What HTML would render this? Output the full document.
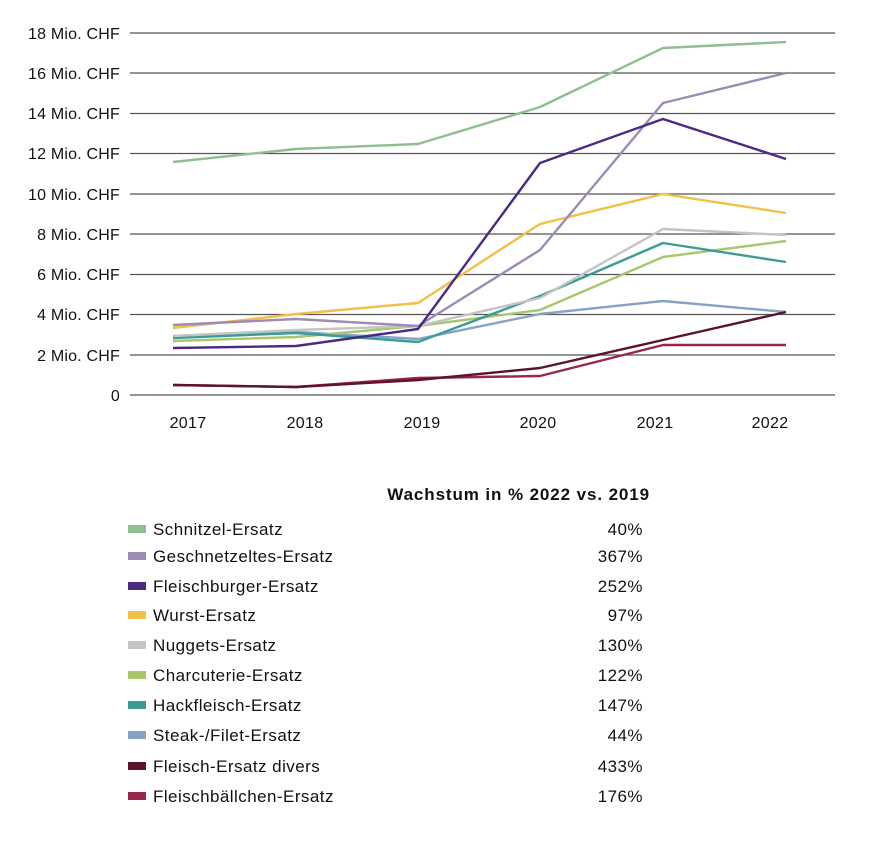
<!DOCTYPE html>
<html><head><meta charset="utf-8"><style>
body{margin:0;background:#fff;width:873px;height:841px;overflow:hidden}
text{font-family:"Liberation Sans",sans-serif;fill:#111}
</style></head><body>
<svg width="873" height="841" viewBox="0 0 873 841" xmlns="http://www.w3.org/2000/svg">
<g stroke="#555" stroke-width="1.2">
<line x1="130" y1="33" x2="835" y2="33"/><line x1="130" y1="73" x2="835" y2="73"/>
<line x1="130" y1="113.5" x2="835" y2="113.5"/><line x1="130" y1="153.5" x2="835" y2="153.5"/>
<line x1="130" y1="194" x2="835" y2="194"/><line x1="130" y1="234" x2="835" y2="234"/>
<line x1="130" y1="274.5" x2="835" y2="274.5"/><line x1="130" y1="314.5" x2="835" y2="314.5"/>
<line x1="130" y1="355" x2="835" y2="355"/><line x1="130" y1="395" x2="835" y2="395"/>
</g>
<g font-size="16" text-anchor="end" letter-spacing="0.2">
<text x="120" y="39">18 Mio. CHF</text><text x="120" y="79">16 Mio. CHF</text>
<text x="120" y="119">14 Mio. CHF</text><text x="120" y="159">12 Mio. CHF</text>
<text x="120" y="200">10 Mio. CHF</text><text x="120" y="240">8 Mio. CHF</text>
<text x="120" y="280">6 Mio. CHF</text><text x="120" y="320">4 Mio. CHF</text>
<text x="120" y="361">2 Mio. CHF</text><text x="120" y="401">0</text>
</g>
<g font-size="16" text-anchor="middle" letter-spacing="0.3">
<text x="188" y="428">2017</text><text x="305" y="428">2018</text><text x="422" y="428">2019</text>
<text x="538" y="428">2020</text><text x="655" y="428">2021</text><text x="770" y="428">2022</text>
</g>
<g fill="none" stroke-width="2.4" stroke-linejoin="round">
<polyline stroke="#85a3c6" points="173,336 296,332 418,339 540,314 663,301 786,312"/>
<polyline stroke="#a9c76a" points="173,341 296,337 418,326 540,310 663,257 786,241"/>
<polyline stroke="#3b9b95" points="173,338 296,333 418,342 540,296 663,243 786,262"/>
<polyline stroke="#c4c4c4" points="173,336 296,330 418,326 540,298 663,229 786,235"/>
<polyline stroke="#f2bf47" points="173,328 296,314 418,303 540,224 663,194 786,213"/>
<polyline stroke="#9e8bb5" points="173,325 296,319 418,326 540,250 663,103 786,73"/>
<polyline stroke="#4a2a85" points="173,348 296,346 418,329 540,163 663,119 786,159"/>
<polyline stroke="#8fbf8f" points="173,162 296,149 418,144 540,107 663,48 786,42"/>
<polyline stroke="#9b2450" points="173,385 296,387 418,378 540,376 663,345 786,345"/>
<polyline stroke="#5c1428" points="173,385 296,387 418,380 540,368 663,340 786,312"/>
</g>
<text x="650" y="500" font-size="17" font-weight="bold" text-anchor="end" letter-spacing="0.9">Wachstum in % 2022 vs. 2019</text>
<g font-size="17" letter-spacing="0.45">
<rect x="128" y="525" width="18" height="8" fill="#8fbf8f"/><text x="153" y="535">Schnitzel-Ersatz</text><text x="643" y="535" text-anchor="end">40%</text>
<rect x="128" y="552" width="18" height="8" fill="#9e8bb5"/><text x="153" y="562">Geschnetzeltes-Ersatz</text><text x="643" y="562" text-anchor="end">367%</text>
<rect x="128" y="582" width="18" height="8" fill="#4a2a85"/><text x="153" y="592">Fleischburger-Ersatz</text><text x="643" y="592" text-anchor="end">252%</text>
<rect x="128" y="611" width="18" height="8" fill="#f2bf47"/><text x="153" y="621">Wurst-Ersatz</text><text x="643" y="621" text-anchor="end">97%</text>
<rect x="128" y="641" width="18" height="8" fill="#c4c4c4"/><text x="153" y="651">Nuggets-Ersatz</text><text x="643" y="651" text-anchor="end">130%</text>
<rect x="128" y="671" width="18" height="8" fill="#a9c76a"/><text x="153" y="681">Charcuterie-Ersatz</text><text x="643" y="681" text-anchor="end">122%</text>
<rect x="128" y="701" width="18" height="8" fill="#3b9b95"/><text x="153" y="711">Hackfleisch-Ersatz</text><text x="643" y="711" text-anchor="end">147%</text>
<rect x="128" y="731" width="18" height="8" fill="#85a3c6"/><text x="153" y="741">Steak-/Filet-Ersatz</text><text x="643" y="741" text-anchor="end">44%</text>
<rect x="128" y="762" width="18" height="8" fill="#5c1428"/><text x="153" y="772">Fleisch-Ersatz divers</text><text x="643" y="772" text-anchor="end">433%</text>
<rect x="128" y="792" width="18" height="8" fill="#9b2450"/><text x="153" y="802">Fleischbällchen-Ersatz</text><text x="643" y="802" text-anchor="end">176%</text>
</g>
</svg>
</body></html>
